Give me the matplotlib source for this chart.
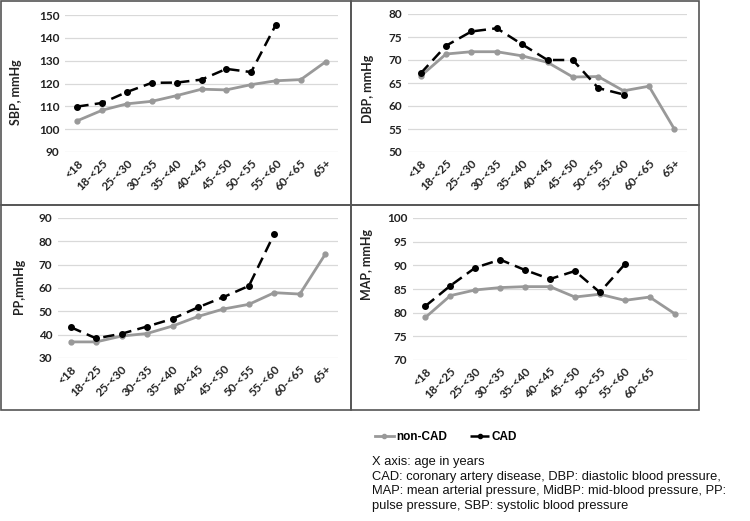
import matplotlib
matplotlib.use("Agg")
import matplotlib.pyplot as plt
from matplotlib.lines import Line2D
from matplotlib.patches import Rectangle

ages = ["<18", "18-<25", "25-<30", "30-<35", "35-<40", "40-<45",
        "45-<50", "50-<55", "55-<60", "60-<65", "65+"]
map_ticks = ages[:-1] + [""]

sbp_non = [103.7, 108.3, 111.1, 112.2, 114.7, 117.5, 117.2, 119.5, 121.2, 121.7, 129.5]
sbp_cad = [109.9, 111.5, 116.3, 120.3, 120.4, 121.7, 126.4, 125.0, 145.8]

dbp_non = [66.5, 71.3, 71.8, 71.8, 70.9, 69.5, 66.3, 66.4, 63.3, 64.3, 55.0]
dbp_cad = [67.1, 73.1, 76.2, 76.9, 73.4, 70.0, 70.0, 63.9, 62.5]

pp_non = [36.9, 36.9, 39.4, 40.5, 43.7, 47.8, 51.0, 53.0, 58.0, 57.4, 74.5]
pp_cad = [43.2, 38.4, 40.4, 43.5, 46.8, 51.7, 56.1, 60.9, 83.3]

map_non = [79.0, 83.6, 84.8, 85.3, 85.5, 85.5, 83.3, 83.9, 82.6, 83.3, 79.8]
map_cad = [81.4, 85.7, 89.5, 91.2, 89.0, 87.1, 88.8, 84.3, 90.2]

W, H = 750, 521
fig = plt.figure(figsize=(7.5, 5.21), dpi=100)

# panel frames (pixels: x0, y0, x1, y1)
frames = [(1, 1, 351, 205), (351, 1, 699, 205), (1, 205, 351, 410), (351, 205, 699, 410)]
for x0, y0, x1, y1 in frames:
    fig.patches.append(Rectangle((x0 / W, 1 - y1 / H), (x1 - x0) / W, (y1 - y0) / H,
                                 transform=fig.transFigure, fill=False,
                                 edgecolor="#555555", linewidth=1.2))

# panel settings: axes box in pixels, y range, ticks, label, label coords, data
panels = [
    ((65, 15, 338, 152), (90, 150), range(90, 151, 10), "SBP, mmHg", (-0.157, 0.44), ages, sbp_non, sbp_cad),
    ((408, 14, 687, 152), (50, 80), range(50, 81, 5), "DBP, mmHg", (-0.122, 0.46), ages, dbp_non, dbp_cad),
    ((58, 218, 338, 358), (30, 90), range(30, 91, 10), "PP,mmHg", (-0.118, 0.51), ages, pp_non, pp_cad),
    ((413, 218, 687, 360), (70, 100), range(70, 101, 5), "MAP, mmHg", (-0.146, 0.67), map_ticks, map_non, map_cad),
]

for box, ylim, yt, ylab, lab_xy, xt, non, cad in panels:
    x0, y0, x1, y1 = box
    ax = fig.add_axes([x0 / W, 1 - y1 / H, (x1 - x0) / W, (y1 - y0) / H])
    xs = list(range(len(ages)))
    ax.plot(xs[:len(non)], non, color="#999999", linewidth=2, marker="o", markersize=3.5)
    ax.plot(xs[:len(cad)], cad, color="black", linewidth=1.8, linestyle=(0, (4.5, 2.5)),
            marker="o", markersize=4)
    ax.set_xlim(-0.5, len(ages) - 0.5)
    ax.set_ylim(*ylim)
    ax.set_yticks(list(yt))
    ax.set_xticks(xs)
    ax.set_xticklabels(xt, rotation=45, ha="right", va="top", rotation_mode="anchor")
    for lbl in ax.get_xticklabels() + ax.get_yticklabels():
        lbl.set_fontsize(8.5)
        lbl.set_fontweight("bold")
        lbl.set_family("Lato")
        lbl.set_color("#222222")
    ax.tick_params(length=0, pad=4)
    ax.grid(axis="y", color="#d9d9d9", linewidth=0.9)
    ax.set_axisbelow(True)
    for s in ax.spines.values():
        s.set_visible(False)
    ax.set_ylabel(ylab, fontsize=9, fontweight="bold", family="Lato", color="#222222")
    ax.yaxis.set_label_coords(*lab_xy)

handles = [
    Line2D([], [], color="#999999", linewidth=2, marker="o", markersize=3),
    Line2D([], [], color="black", linewidth=1.8, linestyle=(0, (3, 2)), marker="o", markersize=3),
]
fig.legend(handles, ["non-CAD", "CAD"], loc="center left",
           bbox_to_anchor=(364 / W, 1 - 437 / H), ncol=2, frameon=False,
           prop={"family": "Liberation Sans", "weight": "bold", "size": 8.5},
           handlelength=1.6, handletextpad=0.2, columnspacing=2.0)

note = ("X axis: age in years\n"
        "CAD: coronary artery disease, DBP: diastolic blood pressure,\n"
        "MAP: mean arterial pressure, MidBP: mid-blood pressure, PP:\n"
        "pulse pressure, SBP: systolic blood pressure")
fig.text(372 / W, 1 - 456 / H, note, ha="left", va="top", fontsize=9.3,
         family="Liberation Sans", linespacing=1.3, color="#111111")

fig.savefig("out.png", dpi=100)
